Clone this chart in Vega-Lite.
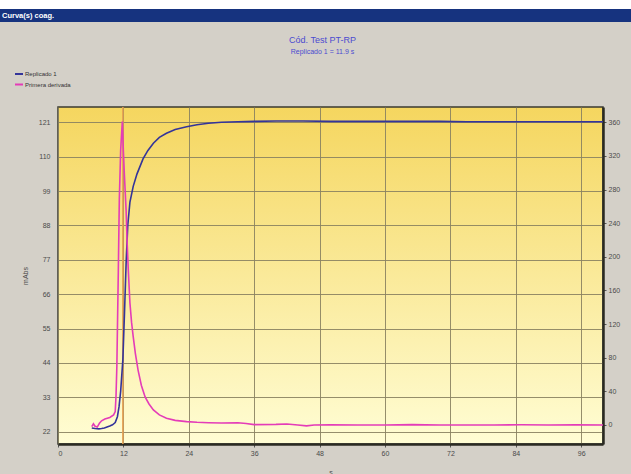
{
  "$schema": "https://vega.github.io/schema/vega-lite/v6.json",
  "padding": 0,
  "background": "#d4d0c8",
  "spacing": 85,
  "center": true,
  "bounds": "flush",
  "resolve": {"scale": {"color": "independent"}, "legend": {"color": "independent"}},
  "config": {
    "font": "Liberation Sans",
    "view": {"stroke": null},
    "axis": {"labelFontSize": 7, "labelColor": "#4a4a4a", "titleFontSize": 7, "titleFontWeight": "normal", "titleColor": "#4a4a4a", "gridColor": "#8a8260", "gridWidth": 1, "gridOpacity": 0.9, "tickColor": "#555555", "domain": false}
  },
  "datasets": {
    "curves": [
      {"t": 6.2, "v": 23.2, "serie": "Replicado 1"},
      {"t": 6.8, "v": 23.0, "serie": "Replicado 1"},
      {"t": 7.5, "v": 22.9, "serie": "Replicado 1"},
      {"t": 8.0, "v": 23.0, "serie": "Replicado 1"},
      {"t": 8.5, "v": 23.2, "serie": "Replicado 1"},
      {"t": 9.0, "v": 23.5, "serie": "Replicado 1"},
      {"t": 9.5, "v": 23.8, "serie": "Replicado 1"},
      {"t": 10.0, "v": 24.2, "serie": "Replicado 1"},
      {"t": 10.5, "v": 24.9, "serie": "Replicado 1"},
      {"t": 10.9, "v": 26.8, "serie": "Replicado 1"},
      {"t": 11.2, "v": 30.0, "serie": "Replicado 1"},
      {"t": 11.5, "v": 35.0, "serie": "Replicado 1"},
      {"t": 11.9, "v": 45.0, "serie": "Replicado 1"},
      {"t": 12.2, "v": 60.0, "serie": "Replicado 1"},
      {"t": 12.5, "v": 76.0, "serie": "Replicado 1"},
      {"t": 12.8, "v": 88.0, "serie": "Replicado 1"},
      {"t": 13.2, "v": 95.5, "serie": "Replicado 1"},
      {"t": 13.8, "v": 100.5, "serie": "Replicado 1"},
      {"t": 14.5, "v": 104.5, "serie": "Replicado 1"},
      {"t": 15.6, "v": 109.3, "serie": "Replicado 1"},
      {"t": 16.5, "v": 112.0, "serie": "Replicado 1"},
      {"t": 17.5, "v": 114.3, "serie": "Replicado 1"},
      {"t": 18.6, "v": 116.2, "serie": "Replicado 1"},
      {"t": 19.9, "v": 117.5, "serie": "Replicado 1"},
      {"t": 21.5, "v": 118.7, "serie": "Replicado 1"},
      {"t": 23.6, "v": 119.6, "serie": "Replicado 1"},
      {"t": 25.5, "v": 120.2, "serie": "Replicado 1"},
      {"t": 27.6, "v": 120.7, "serie": "Replicado 1"},
      {"t": 30.0, "v": 121.0, "serie": "Replicado 1"},
      {"t": 33.0, "v": 121.2, "serie": "Replicado 1"},
      {"t": 36.0, "v": 121.3, "serie": "Replicado 1"},
      {"t": 40.0, "v": 121.4, "serie": "Replicado 1"},
      {"t": 45.0, "v": 121.4, "serie": "Replicado 1"},
      {"t": 50.0, "v": 121.3, "serie": "Replicado 1"},
      {"t": 55.0, "v": 121.3, "serie": "Replicado 1"},
      {"t": 60.0, "v": 121.3, "serie": "Replicado 1"},
      {"t": 65.0, "v": 121.3, "serie": "Replicado 1"},
      {"t": 70.0, "v": 121.3, "serie": "Replicado 1"},
      {"t": 75.0, "v": 121.2, "serie": "Replicado 1"},
      {"t": 80.0, "v": 121.2, "serie": "Replicado 1"},
      {"t": 85.0, "v": 121.2, "serie": "Replicado 1"},
      {"t": 90.0, "v": 121.2, "serie": "Replicado 1"},
      {"t": 95.0, "v": 121.2, "serie": "Replicado 1"},
      {"t": 100.0, "v": 121.2, "serie": "Replicado 1"},
      {"t": 6.2, "v": -2, "serie": "Primera derivada"},
      {"t": 6.5, "v": 1.5, "serie": "Primera derivada"},
      {"t": 6.8, "v": -1.5, "serie": "Primera derivada"},
      {"t": 7.2, "v": -2.5, "serie": "Primera derivada"},
      {"t": 7.6, "v": 2, "serie": "Primera derivada"},
      {"t": 8.0, "v": 5, "serie": "Primera derivada"},
      {"t": 8.6, "v": 7, "serie": "Primera derivada"},
      {"t": 9.5, "v": 9, "serie": "Primera derivada"},
      {"t": 10.2, "v": 12, "serie": "Primera derivada"},
      {"t": 10.5, "v": 16, "serie": "Primera derivada"},
      {"t": 10.65, "v": 35, "serie": "Primera derivada"},
      {"t": 10.8, "v": 70, "serie": "Primera derivada"},
      {"t": 11.07, "v": 184, "serie": "Primera derivada"},
      {"t": 11.25, "v": 268, "serie": "Primera derivada"},
      {"t": 11.5, "v": 327, "serie": "Primera derivada"},
      {"t": 11.8, "v": 361, "serie": "Primera derivada"},
      {"t": 12.0, "v": 325, "serie": "Primera derivada"},
      {"t": 12.2, "v": 295, "serie": "Primera derivada"},
      {"t": 12.5, "v": 255, "serie": "Primera derivada"},
      {"t": 12.7, "v": 215, "serie": "Primera derivada"},
      {"t": 12.9, "v": 184, "serie": "Primera derivada"},
      {"t": 13.2, "v": 145, "serie": "Primera derivada"},
      {"t": 13.5, "v": 122, "serie": "Primera derivada"},
      {"t": 13.8, "v": 105, "serie": "Primera derivada"},
      {"t": 14.2, "v": 85, "serie": "Primera derivada"},
      {"t": 14.7, "v": 65, "serie": "Primera derivada"},
      {"t": 15.3, "v": 47, "serie": "Primera derivada"},
      {"t": 16.0, "v": 33, "serie": "Primera derivada"},
      {"t": 16.7, "v": 25, "serie": "Primera derivada"},
      {"t": 17.5, "v": 18, "serie": "Primera derivada"},
      {"t": 18.6, "v": 12, "serie": "Primera derivada"},
      {"t": 19.9, "v": 8, "serie": "Primera derivada"},
      {"t": 21.5, "v": 5.5, "serie": "Primera derivada"},
      {"t": 23.6, "v": 4, "serie": "Primera derivada"},
      {"t": 25.5, "v": 3.2, "serie": "Primera derivada"},
      {"t": 27.6, "v": 2.7, "serie": "Primera derivada"},
      {"t": 30.0, "v": 2.3, "serie": "Primera derivada"},
      {"t": 33.0, "v": 2.6, "serie": "Primera derivada"},
      {"t": 34.5, "v": 1.8, "serie": "Primera derivada"},
      {"t": 36.0, "v": 0.5, "serie": "Primera derivada"},
      {"t": 40.0, "v": 0.7, "serie": "Primera derivada"},
      {"t": 42.0, "v": 1.2, "serie": "Primera derivada"},
      {"t": 44.0, "v": 0, "serie": "Primera derivada"},
      {"t": 45.6, "v": -1, "serie": "Primera derivada"},
      {"t": 47.0, "v": 0, "serie": "Primera derivada"},
      {"t": 50.0, "v": 0.3, "serie": "Primera derivada"},
      {"t": 55.0, "v": 0, "serie": "Primera derivada"},
      {"t": 60.0, "v": 0, "serie": "Primera derivada"},
      {"t": 65.0, "v": 0.5, "serie": "Primera derivada"},
      {"t": 70.0, "v": 0, "serie": "Primera derivada"},
      {"t": 75.0, "v": 0, "serie": "Primera derivada"},
      {"t": 80.0, "v": 0, "serie": "Primera derivada"},
      {"t": 85.0, "v": 0.3, "serie": "Primera derivada"},
      {"t": 90.0, "v": 0, "serie": "Primera derivada"},
      {"t": 95.0, "v": 0.2, "serie": "Primera derivada"},
      {"t": 100.0, "v": 0, "serie": "Primera derivada"}
    ]
  },
  "vconcat": [
    {
      "width": 661,
      "height": 22,
      "view": {"stroke": null},
      "data": {"values": [{"ventana": "Curva(s) coag."}]},
      "mark": {"type": "rect", "fill": {"gradient": "linear", "x1": 0, "y1": 0, "x2": 0, "y2": 1, "stops": [{"offset": 0, "color": "#ffffff"}, {"offset": 0.41, "color": "#ffffff"}, {"offset": 0.41, "color": "#16337f"}, {"offset": 1, "color": "#16337f"}]}},
      "encoding": {},
      "title": {"text": "Curva(s) coag.", "anchor": "start", "frame": "group", "orient": "bottom", "offset": -10, "color": "#ffffff", "fontSize": 7.5, "fontWeight": "bold", "dx": 2}
    },
    {
      "width": 545,
      "height": 337,
      "view": {"fill": {"gradient": "linear", "x1": 0, "y1": 0, "x2": 0, "y2": 1, "stops": [{"offset": 0, "color": "#f5d65f"}, {"offset": 1, "color": "#fffdd4"}]}, "stroke": "#3a3a30", "strokeWidth": 1.5},
      "title": {"text": "Cód. Test PT-RP", "subtitle": "Replicado 1 = 11.9 s", "anchor": "middle", "frame": "group", "color": "#4b4bd0", "subtitleColor": "#4b4bd0", "fontSize": 9, "fontWeight": "normal", "subtitleFontSize": 7, "subtitlePadding": 3, "offset": 14, "dx": -8},
      "layer": [
        {
          "data": {"values": [{"t": 11.9}]},
          "mark": {"type": "rule", "color": "#e8a050", "strokeWidth": 1.5},
          "encoding": {"x": {"field": "t", "type": "quantitative"}}
        },
        {
          "data": {"name": "curves"},
          "transform": [{"filter": "datum.serie === 'Replicado 1'"}],
          "mark": {"type": "line", "strokeWidth": 1.6},
          "encoding": {
            "x": {"field": "t", "type": "quantitative", "scale": {"domain": [0, 100], "nice": false}, "axis": {"values": [0, 12, 24, 36, 48, 60, 72, 84, 96], "grid": true, "tickSize": 3, "labelPadding": 2, "domain": true, "domainColor": "#2a2a22", "domainWidth": 2.5, "title": "s", "titlePadding": 12}},
            "y": {"field": "v", "type": "quantitative", "scale": {"domain": [18.06, 125.9], "nice": false, "zero": false}, "axis": {"values": [22, 33, 44, 55, 66, 77, 88, 99, 110, 121], "grid": true, "ticks": false, "labelPadding": 8, "title": "mAbs", "titlePadding": 10}},
            "color": {"field": "serie", "type": "nominal", "scale": {"domain": ["Replicado 1", "Primera derivada"], "range": ["#34349a", "#e43cb8"]}, "legend": {"orient": "none", "legendX": -44, "legendY": -38, "title": null, "symbolType": "stroke", "symbolStrokeWidth": 2, "symbolSize": 64, "labelFontSize": 6, "labelColor": "#333333", "rowPadding": 1.5, "labelOffset": 1}}
          }
        },
        {
          "data": {"name": "curves"},
          "transform": [{"filter": "datum.serie === 'Primera derivada'"}],
          "mark": {"type": "line", "strokeWidth": 1.6},
          "encoding": {
            "x": {"field": "t", "type": "quantitative"},
            "y": {"field": "v", "type": "quantitative", "scale": {"domain": [-22.6, 378.2], "nice": false, "zero": false}, "axis": {"orient": "right", "values": [0, 40, 80, 120, 160, 200, 240, 280, 320, 360], "grid": false, "tickSize": 3, "labelPadding": 2, "domain": true, "domainColor": "#2a2a22", "domainWidth": 2.5, "title": null}},
            "color": {"field": "serie", "type": "nominal"}
          }
        }
      ],
      "resolve": {"scale": {"y": "independent"}}
    }
  ]
}
